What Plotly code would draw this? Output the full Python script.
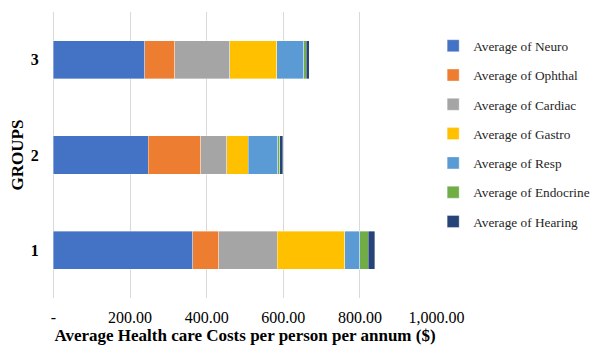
import plotly.graph_objects as go

groups = ["1", "2", "3"]
series_names = ["Average of Neuro", "Average of Ophthal", "Average of Cardiac",
                "Average of Gastro", "Average of Resp", "Average of Endocrine",
                "Average of Hearing"]
neuro = [364, 248, 239]
ophthal = [67, 136, 78]
cardiac = [153, 68, 143]
gastro = [176, 57, 123]
resp = [40, 76, 70]
endocrine = [21, 6, 7]
hearing = [17, 7, 7]
colors = ["#4472C4", "#ED7D31", "#A5A5A5", "#FFC000", "#5B9BD5", "#70AD47", "#264478"]

tick_vals = [0, 200, 400, 600, 800, 1000]
tick_text = ["-", "200.00", "400.00", "600.00", "800.00", "1,000.00"]

values = [neuro, ophthal, cardiac, gastro, resp, endocrine, hearing]

fig = go.Figure()
for i, (name, vals, col) in enumerate(zip(series_names, values, colors)):
    fig.add_trace(go.Bar(
        y=groups, x=vals, name=name, orientation="h",
        marker=dict(color=col, line=dict(color="rgba(255,255,255,0.6)", width=0.6)),
        legendgroup=str(i),
    ))

font_family = "Liberation Serif, Times New Roman, serif"
fig.update_layout(
    width=590, height=346,
    barmode="stack", bargap=0.6,
    plot_bgcolor="white", paper_bgcolor="white",
    margin=dict(l=53, r=153, t=12, b=48, autoexpand=False),
    font=dict(family=font_family, color="#000000"),
    legend=dict(
        x=0.99, y=0.935, xanchor="left", yanchor="top",
        traceorder="grouped", tracegroupgap=9,
        font=dict(family=font_family, size=13.3, color="#262626"),
        itemwidth=30,
    ),
    xaxis=dict(
        range=[-1, 1001], tickvals=tick_vals, ticktext=tick_text,
        showgrid=True, gridcolor="#D9D9D9", gridwidth=1,
        zeroline=True, zerolinecolor="#D9D9D9", zerolinewidth=1, showline=False,
        ticks="outside", ticklen=5, tickcolor="rgba(0,0,0,0)",
        tickfont=dict(family=font_family, size=16, color="#000000"),
        title=dict(text="<b>Average Health care Costs per person per annum ($)</b>",
                   font=dict(family=font_family, size=17, color="#000000"), standoff=2),
    ),
    yaxis=dict(
        showgrid=False, zeroline=False, showline=False,
        tickfont=dict(family=font_family, size=16, color="#000000", weight="bold"),
        ticks="outside", ticklen=10, tickcolor="rgba(0,0,0,0)",
        title=dict(text="<b>GROUPS</b>",
                   font=dict(family=font_family, size=17, color="#000000"), standoff=2),
    ),
)

fig.write_html("out.html")
